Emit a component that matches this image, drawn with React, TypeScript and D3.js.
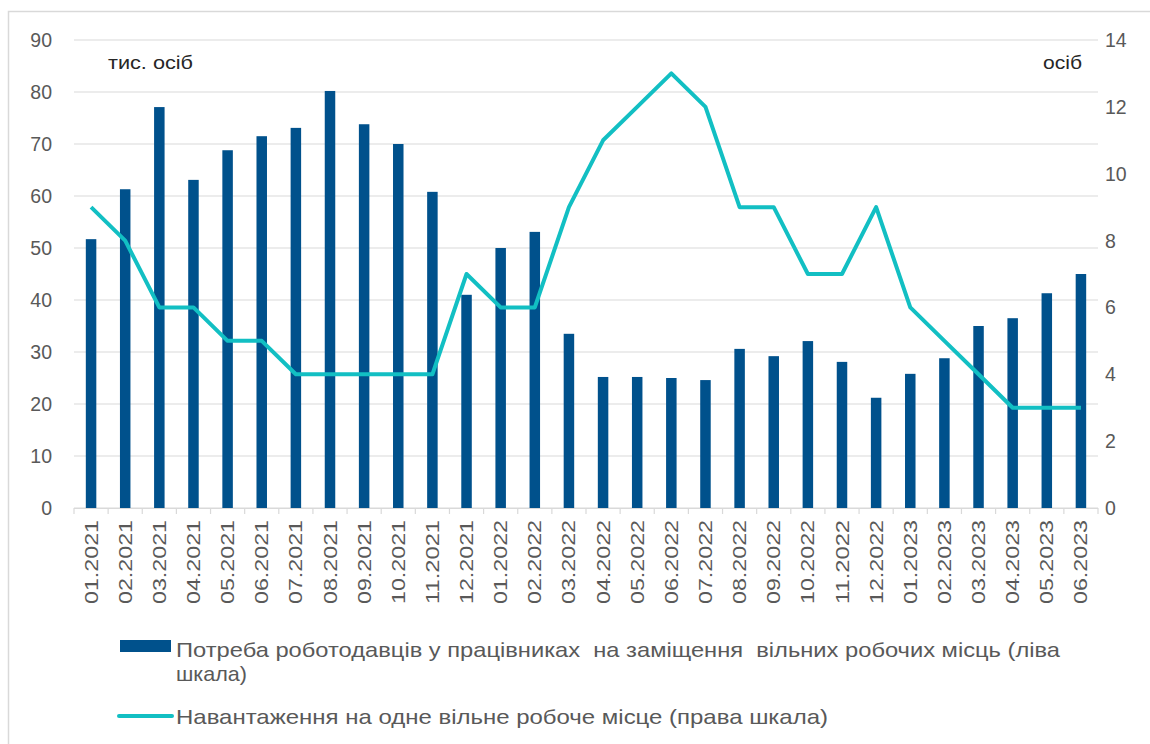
import React from "react";
import * as d3 from "d3";

const categories = [
  "01.2021","02.2021","03.2021","04.2021","05.2021","06.2021","07.2021","08.2021","09.2021","10.2021","11.2021","12.2021",
  "01.2022","02.2022","03.2022","04.2022","05.2022","06.2022","07.2022","08.2022","09.2022","10.2022","11.2022","12.2022",
  "01.2023","02.2023","03.2023","04.2023","05.2023","06.2023",
];
const demand = [51.7,61.3,77.1,63.1,68.8,71.5,73.1,80.2,73.8,70,60.8,41,50,53.1,33.5,25.2,25.2,25,24.6,30.6,29.2,32.1,28.1,21.2,25.8,28.8,35,36.5,41.3,45];
const load = [9,8,6,6,5,5,4,4,4,4,4,7,6,6,9,11,12,13,12,9,9,7,7,9,6,5,4,3,3,3];
const leftTicks = [0,10,20,30,40,50,60,70,80,90];
const rightTicks = [0,2,4,6,8,10,12,14];
const barLabel = "Потреба роботодавців у працівниках  на заміщення  вільних робочих місць (ліва";
const barLabel2 = "шкала)";
const lineLabel = "Навантаження на одне вільне робоче місце (права шкала)";

export default function App() {
  const W = 1150, H = 744;
  const left = 74, right = 1098, top = 40, bottom = 508;
  const x = d3.scaleBand<string>().domain(categories).range([left, right]).paddingInner(0).paddingOuter(0);
  const yL = d3.scaleLinear().domain([0, 90]).range([bottom, top]);
  const yR = d3.scaleLinear().domain([0, 14]).range([bottom, top]);
  const bw = 10.5;
  const line = d3.line<number>().x((_, i) => x(categories[i])! + x.bandwidth() / 2).y(d => yR(d));
  const font = "'Liberation Sans', Arial, sans-serif";
  const gray = "#595959";
  return (
    <svg width={W} height={H} style={{ position: "absolute", left: 0, top: 0, fontFamily: font }}>
      <rect x={0} y={0} width={W} height={H} fill="#fff" />
      <rect x={8.5} y={11.5} width={1200} height={800} fill="none" stroke="#d9d9d9" strokeWidth={1.5} />
      {leftTicks.map(t => (
        <line key={"g" + t} x1={left} x2={right} y1={yL(t)} y2={yL(t)} stroke="#d9d9d9" strokeWidth={1.2} />
      ))}
      {leftTicks.map(t => (
        <text key={"l" + t} x={52} y={yL(t) + 7} textAnchor="end" fontSize={19.5} fill={gray}>{t}</text>
      ))}
      {rightTicks.map(t => (
        <text key={"r" + t} x={1105} y={yR(t) + 7} textAnchor="start" fontSize={19.5} fill={gray}>{t}</text>
      ))}
      {demand.map((v, i) => (
        <rect key={"b" + i} x={x(categories[i])! + x.bandwidth() / 2 - bw / 2} y={yL(v)} width={bw} height={yL(0) - yL(v)} fill="#00518C" />
      ))}
      <line x1={left} x2={right} y1={bottom + 0.5} y2={bottom + 0.5} stroke="#d9d9d9" strokeWidth={1.2} />
      {d3.range(categories.length + 1).map(i => {
        const xx = left + i * x.bandwidth();
        return <line key={"t" + i} x1={xx} x2={xx} y1={bottom} y2={bottom + 6} stroke="#d9d9d9" strokeWidth={1.2} />;
      })}
      {categories.map(c => {
        const cx = x(c)! + x.bandwidth() / 2 + 6.5;
        return (
          <text key={"x" + c} transform={`translate(${cx},${bottom + 12}) rotate(-90)`} textAnchor="end" fontSize={18.5} fill={gray} textLength={84} lengthAdjust="spacingAndGlyphs">{c}</text>
        );
      })}
      <path d={line(load) || ""} fill="none" stroke="#12BFC3" strokeWidth={4} strokeLinejoin="round" />
      <text x={108} y={69} fontSize={19} fill="#262626" textLength={85} lengthAdjust="spacingAndGlyphs">тис. осіб</text>
      <text x={1043} y={69} fontSize={19} fill="#262626" textLength={39} lengthAdjust="spacingAndGlyphs">осіб</text>
      <rect x={120} y={640} width={51} height={12} fill="#00518C" />
      <text x={176} y={657} fontSize={21} fill={gray} textLength={884} lengthAdjust="spacingAndGlyphs" style={{ whiteSpace: "pre" }}>{barLabel}</text>
      <text x={176} y={681} fontSize={21} fill={gray} textLength={71} lengthAdjust="spacingAndGlyphs">{barLabel2}</text>
      <line x1={119} x2={172} y1={716} y2={716} stroke="#12BFC3" strokeWidth={4} strokeLinecap="round" />
      <text x={176} y={724} fontSize={21} fill={gray} textLength={652} lengthAdjust="spacingAndGlyphs">{lineLabel}</text>
    </svg>
  );
}
